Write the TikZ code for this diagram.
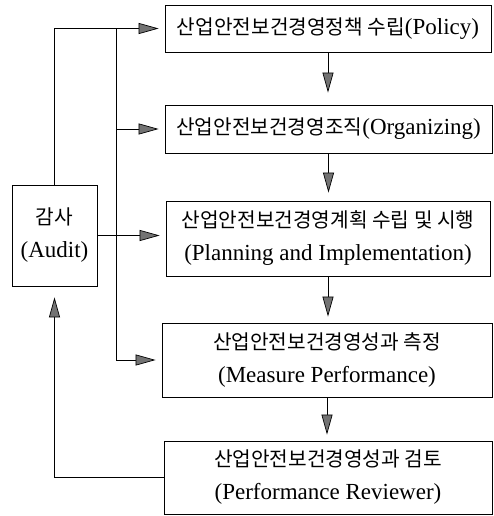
\documentclass[tikz,border=0pt]{standalone}
\usepackage{fontspec}
\setmainfont{Liberation Serif}
\newfontfamily\kr[Scale=0.88]{Noto Sans CJK KR}
\usetikzlibrary{arrows.meta}

\begin{document}
\begin{tikzpicture}[x=1pt, y=-1pt, >={Triangle[length=20pt, width=11pt, fill=black!55]},
        every node/.style={draw, line width=0.8pt, align=center, inner sep=0pt,
            font=\fontsize{23}{33}\selectfont},
        flow/.style={line width=0.7pt, ->, shorten >=6pt}]
            \useasboundingbox (0,0) rectangle (493,516);

            % Nodes
            \node[minimum width=326pt, minimum height=47pt] at (328, 28.5) (policy)
                {{\kr 산업안전보건경영정책 수립}(Policy)};
            \node[minimum width=327pt, minimum height=48pt] at (328.5, 129) (organize)
                {{\kr 산업안전보건경영조직}(Organizing)};
            \node[minimum width=324pt, minimum height=75pt] at (328, 238.5) (plan)
                {{\kr 산업안전보건경영계획 수립 및 시행}\\(Planning and Implementation)};
            \node[minimum width=330pt, minimum height=74pt] at (327, 360) (measure)
                {{\kr 산업안전보건경영성과 측정}\\(Measure Performance)};
            \node[minimum width=328pt, minimum height=73pt] at (328, 477.5) (review)
                {{\kr 산업안전보건경영성과 검토}\\(Performance Reviewer)};
            \node[minimum width=85pt, minimum height=101pt] at (54.5, 235.5) (audit)
                {{\kr 감사}\\(Audit)};
            \coordinate (split) at (116, 28.5);

            % Edges
            \draw[flow] (audit.north) |- (policy.west);
            \draw[flow] (split) |- (organize.west);
            \draw[flow] (split) |- (measure.west);
            \draw[flow] (audit.east) -- (audit.east -| plan.west);
            \draw[flow, shorten >=11pt] (review.west) -| (audit.south);

            \draw[flow, shorten >=12pt] (policy.south) -- (policy.south |- organize.north);
            \draw[flow, shorten >=8pt] (organize.south) -- (organize.south |- plan.north);
            \draw[flow] (plan.south) -- (plan.south |- measure.north);
            \draw[flow] (measure.south) -- (measure.south |- review.north);
        \end{tikzpicture}
\end{document}
